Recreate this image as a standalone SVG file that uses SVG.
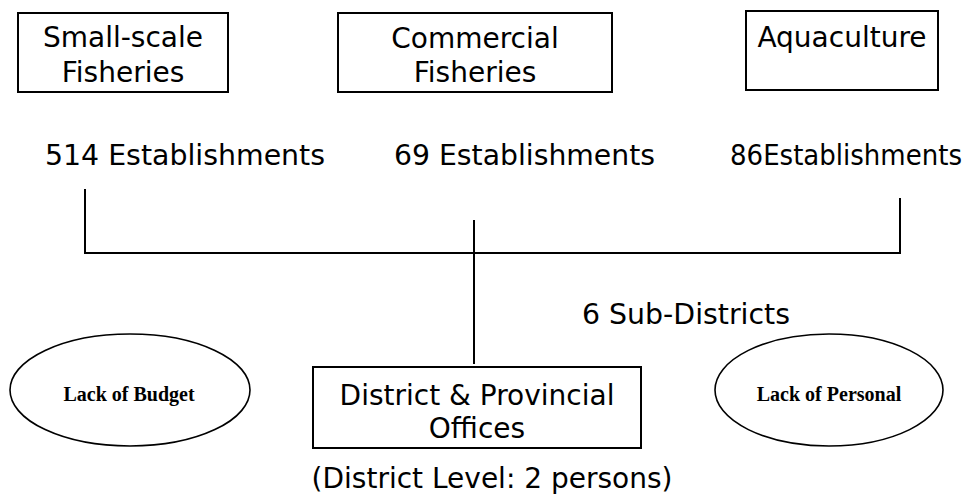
<svg xmlns="http://www.w3.org/2000/svg" width="978" height="504" viewBox="0 0 978 504">
<style>
.box{fill:#fff;stroke:#000;stroke-width:2}
.ell{fill:#fff;stroke:#000;stroke-width:1.6}
.t{font-family:"DejaVu Sans",Verdana,sans-serif;font-size:28px;fill:#000;text-anchor:middle}
.tl{font-family:"DejaVu Sans",Verdana,sans-serif;font-size:28px;fill:#000}
.s{font-family:"Liberation Serif","Times New Roman",serif;font-size:20px;font-weight:bold;fill:#000;text-anchor:middle}
.ln{fill:none;stroke:#000;stroke-width:2}
</style>
<rect width="978" height="504" fill="#fff"/>
<g id="connectors">
<polyline class="ln" points="85,189 85,253 900,253 900,198"/>
<line class="ln" x1="474" y1="220" x2="474" y2="364"/>
</g>
<g id="small-scale">
<rect class="box" x="18" y="13" width="210" height="79"/>
<text class="t" x="123" y="47">Small-scale</text>
<text class="t" x="123" y="82">Fisheries</text>
</g>
<g id="commercial">
<rect class="box" x="338" y="13" width="274" height="79"/>
<text class="t" x="475" y="48">Commercial</text>
<text class="t" x="475" y="82">Fisheries</text>
</g>
<g id="aquaculture">
<rect class="box" x="746" y="11" width="192" height="79"/>
<text class="t" x="842" y="47">Aquaculture</text>
</g>
<g id="labels">
<text class="tl" x="45" y="165" textLength="280" lengthAdjust="spacingAndGlyphs">514 Establishments</text>
<text class="tl" x="394" y="165" textLength="261" lengthAdjust="spacingAndGlyphs">69 Establishments</text>
<text class="tl" x="730" y="165" textLength="232" lengthAdjust="spacingAndGlyphs">86Establishments</text>
<text class="tl" x="582" y="324" textLength="208" lengthAdjust="spacingAndGlyphs">6 Sub-Districts</text>
</g>
<g id="lack-budget">
<ellipse class="ell" cx="130" cy="390" rx="120" ry="56"/>
<text class="s" x="129" y="401">Lack of  Budget</text>
</g>
<g id="district">
<rect class="box" x="313" y="367" width="328" height="81"/>
<text class="t" x="477" y="405">District &amp; Provincial</text>
<text class="t" x="477" y="438">Offices</text>
<text class="t" x="492" y="488">(District Level: 2 persons)</text>
</g>
<g id="lack-personal">
<ellipse class="ell" cx="829" cy="390" rx="114" ry="56"/>
<text class="s" x="829" y="401">Lack of  Personal</text>
</g>
</svg>
